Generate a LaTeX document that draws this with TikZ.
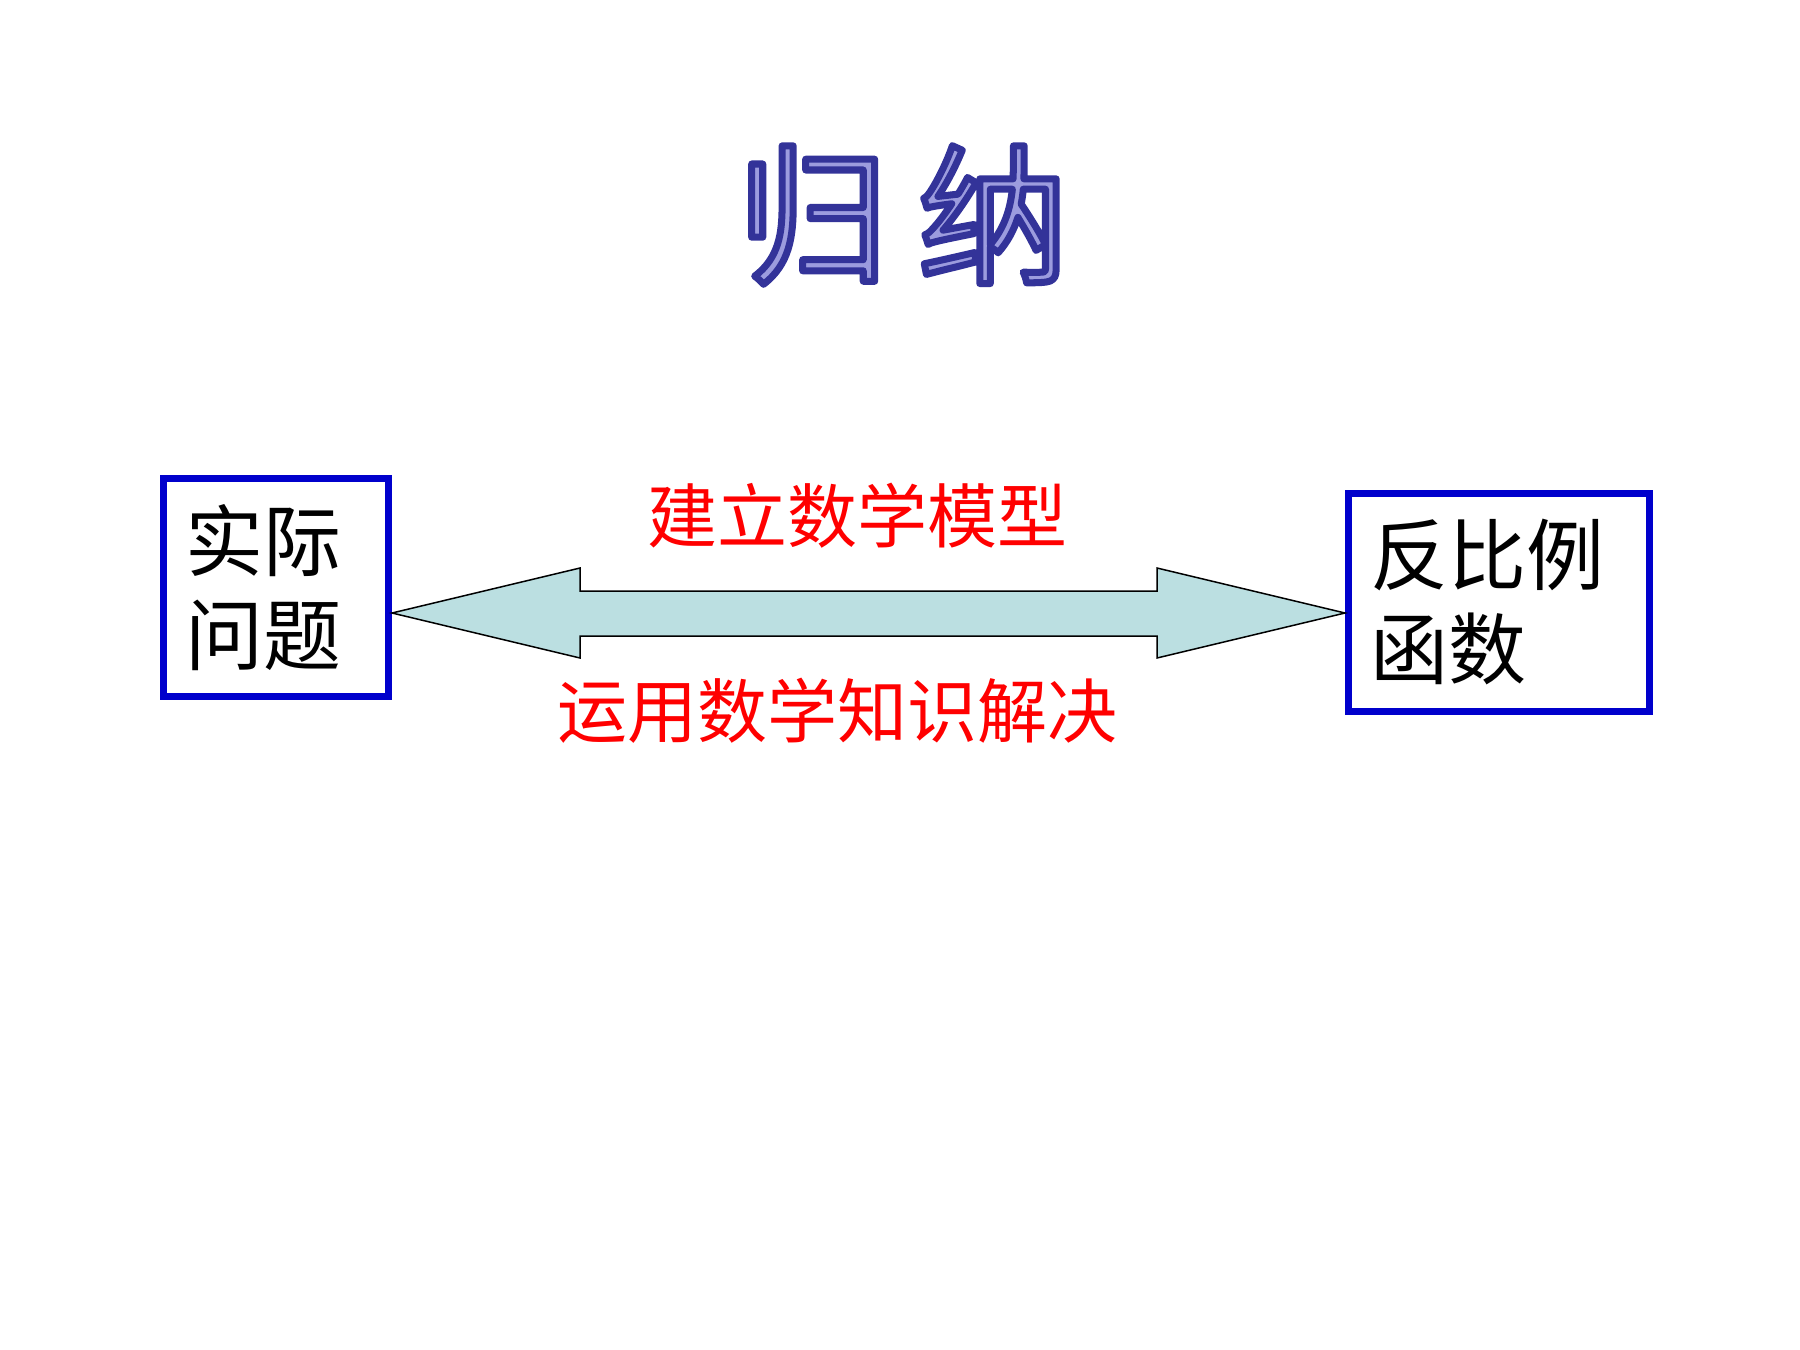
\documentclass[tikz,border=0pt]{standalone}
\usepackage{fontspec}
\setmainfont{Noto Sans CJK SC}
\newfontfamily\cjk{Noto Sans CJK SC}
\definecolor{boxblue}{HTML}{0000CC}
\definecolor{arrowfill}{HTML}{BBDFE1}
\definecolor{titlefill}{HTML}{9C9CDE}
\definecolor{labelred}{HTML}{FF0000}
\tikzset{
  framebox/.style={draw=boxblue, line width=7pt, fill=white, align=left, inner xsep=22pt, inner ysep=0pt},
  boxtext/.style={font=\cjk\fontsize{78}{94}\selectfont, text=black},
  redlabel/.style={font=\cjk\fontsize{70}{70}\selectfont, text=labelred, inner sep=0pt},
  bigarrow/.style={draw=black, line width=1.5pt, fill=arrowfill, line join=miter},
}
\begin{document}
\begin{tikzpicture}[x=1pt,y=-1pt]
\useasboundingbox (0,0) rectangle (1800,1350);
% title
\node (title) at (903,215) {\cjk\fontsize{150}{150}\selectfont\color{titlefill}\special{pdf:literal direct 0.2 0.2 0.6 RG 7 w 1 j 2 Tr}归\hspace{30pt}纳\special{pdf:literal direct 0 Tr}};
% boxes
\node[framebox, boxtext, minimum width=225pt, minimum height=218pt, text width=181pt] (left) at (276,587.5) {实际\\问题};
\node[framebox, boxtext, minimum width=301pt, minimum height=218pt, text width=257pt] (right) at (1499,602.5) {反比例\\函数};
% double arrow
\coordinate (tipL) at (left.east |- 0,613);
\coordinate (tipR) at (right.west |- 0,613);
\draw[bigarrow] (tipL) -- (580,568) -- (580,591) -- (1157,591) -- (1157,568) -- (tipR)
  -- (1157,658) -- (1157,636) -- (580,636) -- (580,658) -- cycle;
% labels
\node[redlabel] (top) at (857,516) {建立数学模型};
\node[redlabel] (bottom) at (837,711) {运用数学知识解决};
\end{tikzpicture}
\end{document}
